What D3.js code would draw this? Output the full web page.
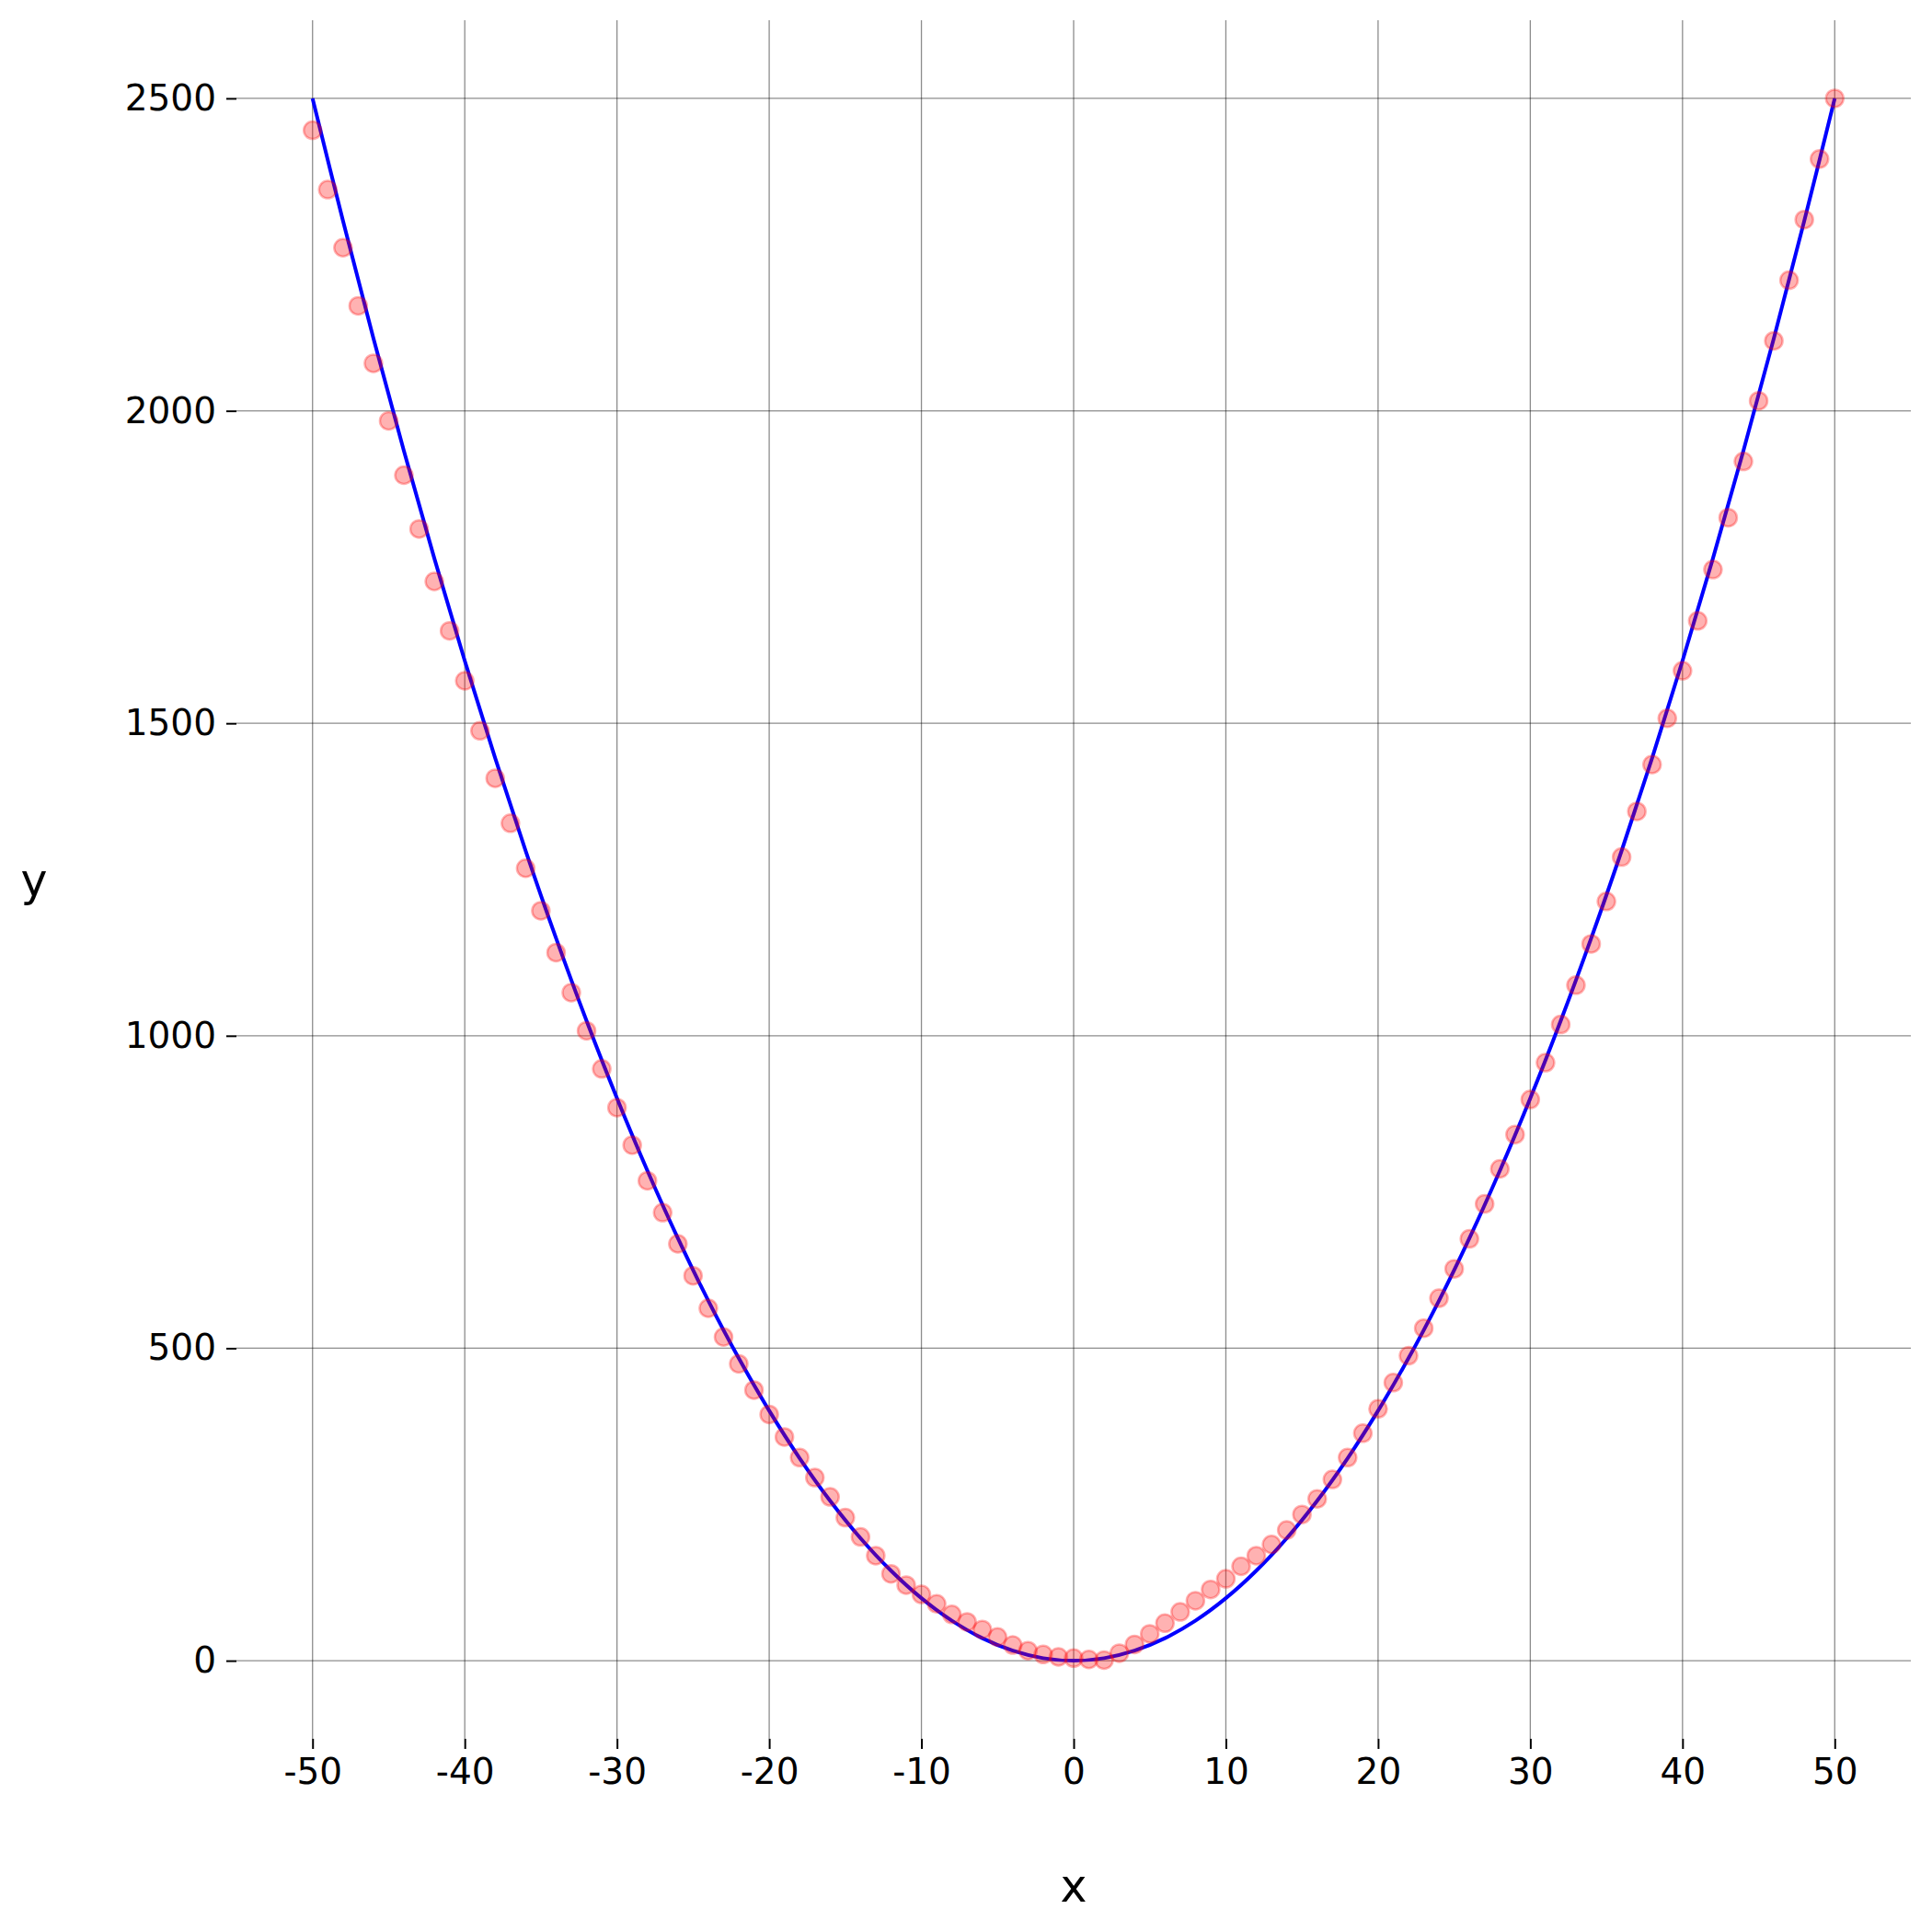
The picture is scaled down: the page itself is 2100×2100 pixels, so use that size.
<!DOCTYPE html>
<html>
<head>
<meta charset="utf-8">
<script src="https://cdn.jsdelivr.net/npm/d3@7"></script>
<style>
  body { margin: 0; background: #fff; }
  text { font-family: "DejaVu Sans", sans-serif; }
</style>
</head>
<body>
<div id="chart"></div>
<script>
// scatter points, one per integer x
const pointX = d3.range(-50, 51);
const pointY = [
  2449, 2354, 2261, 2168, 2076, 1984, 1897, 1811, 1727, 1648,
  1568, 1488, 1412, 1340, 1268, 1200, 1133, 1069, 1008, 947,
  885, 825, 768, 717, 667, 616, 564, 518, 475, 433,
  394, 358, 325, 293, 262, 229, 198, 168, 139, 121,
  106, 91, 74, 62, 50, 38, 25, 16, 10, 6,
  4, 2, 1, 12, 26, 43, 60, 78, 96, 114,
  131, 151, 168, 186, 209, 234, 259, 290, 325, 364,
  403, 445, 488, 532, 580, 627, 675, 731, 787, 842,
  898, 957, 1018, 1081, 1147, 1215, 1286, 1359, 1434, 1508,
  1584, 1664, 1746, 1829, 1919, 2016, 2112, 2209, 2306, 2403,
  2500
];

// fitted curve (blue), read at every 2 units
const lineX = d3.range(-50, 51, 2);
const lineY = [
  2500, 2304, 2116, 1936, 1764, 1600, 1444, 1296, 1156, 1024,
  900, 784, 676, 576, 484, 400, 324, 256, 196, 144,
  100, 64, 36, 16, 4, 0, 4, 16, 36, 64,
  100, 144, 196, 256, 324, 400, 484, 576, 676, 784,
  900, 1024, 1156, 1296, 1444, 1600, 1764, 1936, 2116, 2304,
  2500
];

const xTicks = [-50, -40, -30, -20, -10, 0, 10, 20, 30, 40, 50];
const yTicks = [0, 500, 1000, 1500, 2000, 2500];

const W = 2100, H = 2100;
const margin = {top: 22, right: 23, bottom: 210, left: 257};

const svg = d3.select("#chart").append("svg")
    .attr("width", W)
    .attr("height", H);

const x = d3.scaleLinear().domain([-55, 55]).range([margin.left, W - margin.right]);
const y = d3.scaleLinear().domain([-125, 2625]).range([H - margin.bottom, margin.top]);

// grid
const grid = svg.append("g").attr("stroke", "#000").attr("stroke-opacity", 0.45).attr("stroke-width", 1.3);
grid.selectAll(".gx").data(xTicks).join("line")
    .attr("x1", d => x(d)).attr("x2", d => x(d))
    .attr("y1", margin.top).attr("y2", H - margin.bottom);
grid.selectAll(".gy").data(yTicks).join("line")
    .attr("y1", d => y(d)).attr("y2", d => y(d))
    .attr("x1", margin.left).attr("x2", W - margin.right);

// axes
const xAxis = svg.append("g")
    .attr("transform", `translate(0,${H - margin.bottom})`)
    .call(d3.axisBottom(x).tickValues(xTicks).tickSize(11).tickPadding(10).tickFormat(d3.format("d")));
const yAxis = svg.append("g")
    .attr("transform", `translate(${margin.left},0)`)
    .call(d3.axisLeft(y).tickValues(yTicks).tickSize(11).tickPadding(11).tickFormat(d3.format("d")));

[xAxis, yAxis].forEach(a => {
  a.select(".domain").remove();
  a.selectAll(".tick line").attr("stroke", "#000").attr("stroke-width", 2);
  a.selectAll(".tick text").attr("font-size", 39).attr("fill", "#000")
      .style("font-family", "'DejaVu Sans', sans-serif");
});
// matplotlib-style minus
xAxis.selectAll(".tick text").text(d => d3.format("d")(d).replace("−", "-"));

// fitted line
const line = d3.line()
    .x((d, i) => x(lineX[i]))
    .y(d => y(d))
    .curve(d3.curveCatmullRom);
svg.append("path")
    .datum(lineY)
    .attr("fill", "none")
    .attr("stroke", "#0000ff")
    .attr("stroke-width", 4)
    .attr("d", line);

// points
svg.append("g").selectAll("circle")
    .data(pointY)
    .join("circle")
    .attr("cx", (d, i) => x(pointX[i]))
    .attr("cy", d => y(d))
    .attr("r", 9.5)
    .attr("fill", "red")
    .attr("fill-opacity", 0.3)
    .attr("stroke", "red")
    .attr("stroke-opacity", 0.3)
    .attr("stroke-width", 2.5);

// axis labels
svg.append("text")
    .attr("x", x(0))
    .attr("y", 2067)
    .attr("text-anchor", "middle")
    .attr("font-size", 49)
    .text("x");

svg.append("text")
    .attr("x", 37)
    .attr("y", 974)
    .attr("text-anchor", "middle")
    .attr("font-size", 49)
    .text("y");
</script>
</body>
</html>
